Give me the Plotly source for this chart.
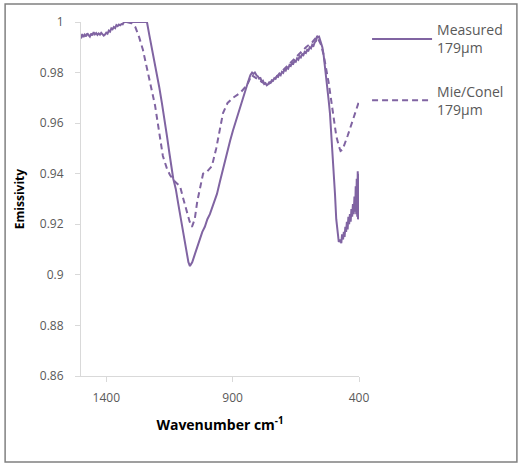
import plotly.graph_objects as go

# Measured 179um (solid)
meas_x = [1500, 1495, 1490, 1485, 1480, 1475, 1470, 1465, 1460, 1455, 1450, 1445, 1440, 1435,
          1430, 1425, 1420, 1415, 1410, 1405, 1400, 1395, 1390, 1385, 1380, 1375, 1370, 1365,
          1360, 1355, 1350, 1345, 1340, 1335, 1330, 1320, 1300, 1280, 1260, 1245, 1239,
          1230, 1220, 1210, 1200, 1190, 1180, 1170, 1160, 1150, 1145, 1140, 1135, 1130, 1125,
          1115, 1100, 1085, 1075, 1069, 1060, 1050, 1040, 1030, 1020, 1010, 1000, 990, 980,
          970, 962, 950, 940, 930, 920, 910, 899, 890, 879, 870, 860, 850, 840, 830, 823,
          818, 812, 805, 800, 795, 790, 785, 780, 775, 770, 765, 760, 755, 750, 745, 740,
          735, 730, 725, 720, 715, 710, 705, 700, 695, 690, 685, 680, 675, 670, 665, 660,
          655, 650, 645, 640, 635, 630, 625, 620, 615, 610, 605, 600, 595, 590, 585, 580,
          575, 570, 566, 562, 558, 554, 550, 545, 540, 535, 530, 525, 520, 515, 510, 505,
          500, 495, 490, 485, 480, 475, 470, 467, 463, 460, 457, 454, 451, 448, 445, 442,
          439, 436, 433, 430, 427, 424, 421, 418, 415, 413, 411, 409, 407, 405, 404, 403,
          402, 401, 400]
meas_y = [0.9935, 0.9952, 0.9940, 0.9950, 0.9943, 0.9955, 0.9948, 0.9942, 0.9954, 0.9947, 0.9960, 0.9951,
          0.9956, 0.9949, 0.9955, 0.9950, 0.9957, 0.9951, 0.9946, 0.9950, 0.9958, 0.9954, 0.9966, 0.9962,
          0.9975, 0.9971, 0.9980, 0.9976, 0.9988, 0.9984, 0.9990, 0.9987, 0.9992, 0.9991, 1.000, 1.000,
          1.000, 1.000, 1.000, 1.000, 1.000,
          0.995, 0.990, 0.985, 0.979, 0.974, 0.968, 0.962, 0.955, 0.948, 0.944, 0.941, 0.938,
          0.936, 0.934, 0.928, 0.919, 0.910, 0.905, 0.9035, 0.905, 0.908, 0.911, 0.914, 0.917,
          0.919, 0.922, 0.924, 0.927, 0.930, 0.932, 0.937, 0.941, 0.946, 0.950, 0.953, 0.957,
          0.960, 0.963, 0.966, 0.970, 0.973, 0.976, 0.979, 0.980,
          0.9795, 0.9800, 0.9788, 0.9785, 0.9776, 0.9778, 0.9765, 0.9768, 0.9755, 0.9758, 0.9750, 0.9754,
          0.9762, 0.9760, 0.9770, 0.9768, 0.9778, 0.9775, 0.9786, 0.9783, 0.9795, 0.9790, 0.9803, 0.9799,
          0.9812, 0.9808, 0.9820, 0.9816, 0.9830, 0.9826, 0.9838, 0.9835, 0.9847, 0.9843, 0.9856, 0.9851,
          0.9864, 0.9860, 0.9873, 0.9869, 0.9882, 0.9878, 0.9890, 0.9887, 0.9900, 0.9896, 0.9910, 0.9906,
          0.9920, 0.9925, 0.9945, 0.9940, 0.9942, 0.993, 0.992, 0.990, 0.987, 0.983, 0.979, 0.974,
          0.969, 0.964, 0.957, 0.950, 0.941, 0.932, 0.922, 0.916, 0.913, 0.914, 0.9125, 0.916,
          0.914, 0.917, 0.915, 0.919, 0.917, 0.921, 0.918, 0.923, 0.920, 0.924, 0.921, 0.926,
          0.923, 0.928, 0.924, 0.931, 0.925, 0.935, 0.924, 0.938, 0.923, 0.941, 0.922, 0.936,
          0.923, 0.940, 0.922]

# Mie/Conel 179um (dashed)
mie_x = [1320, 1300, 1285, 1270, 1255, 1239, 1220, 1207, 1190, 1176, 1160, 1148, 1130, 1108,
         1095, 1081, 1070, 1061, 1050, 1040, 1029, 1017, 1000, 982, 965, 950, 938, 920, 899,
         870, 843, 825, 810, 795, 780, 765, 750, 730, 700, 670, 640, 610, 585, 568, 560, 550,
         540, 530, 520, 510, 500, 490, 480, 473, 465, 455, 445, 435, 425, 415, 408, 402]
mie_y = [1.000, 0.9995, 0.998, 0.994, 0.989, 0.982, 0.974, 0.967, 0.956, 0.947, 0.942, 0.9395,
         0.937, 0.935, 0.930, 0.9245, 0.921, 0.919, 0.922, 0.929, 0.935, 0.940, 0.941, 0.943,
         0.950, 0.957, 0.964, 0.968, 0.970, 0.972, 0.975, 0.979, 0.978, 0.977, 0.976, 0.975,
         0.976, 0.978, 0.981, 0.984, 0.987, 0.990, 0.992, 0.994, 0.993, 0.991, 0.987, 0.982,
         0.976, 0.969, 0.961, 0.955, 0.951, 0.949, 0.9495, 0.952, 0.955, 0.958, 0.961, 0.964,
         0.966, 0.968]

y_ticks = [0.86, 0.88, 0.9, 0.92, 0.94, 0.96, 0.98, 1]
y_tick_text = ["0.86", "0.88", "0.9", "0.92", "0.94", "0.96", "0.98", "1"]
x_ticks = [1400, 900, 400]

color = "#8064A2"
font = "Open Sans, Liberation Sans, sans-serif"

fig = go.Figure()
fig.add_trace(go.Scatter(x=meas_x, y=meas_y, mode="lines", name="Measured<br>179µm",
                         line=dict(color=color, width=2), legendgroup="a"))
fig.add_trace(go.Scatter(x=mie_x, y=mie_y, mode="lines", name="Mie/Conel<br>179µm",
                         line=dict(color=color, width=2, dash="6px,4px"), legendgroup="b"))

fig.update_layout(
    width=519, height=465,
    margin=dict(l=81, r=160, t=22, b=89, autoexpand=False),
    paper_bgcolor="white", plot_bgcolor="white",
    font=dict(family=font, size=12, color="#595959"),
    showlegend=True,
    legend=dict(x=1.029, y=1.022, xanchor="left", yanchor="top",
                font=dict(size=14, color="#595959"),
                itemwidth=60,
                traceorder="grouped", tracegroupgap=22,
                bgcolor="rgba(0,0,0,0)"),
    xaxis=dict(range=[1500, 400], tickvals=x_ticks, ticktext=[str(v) for v in x_ticks],
               showgrid=False, zeroline=False, showline=True, linecolor="#d9d9d9",
               linewidth=1, ticks="outside", ticklen=5, tickcolor="#d9d9d9",
               ticklabelstandoff=6,
               title=dict(text="<b>Wavenumber cm<sup>-1</sup></b>", standoff=14,
                          font=dict(size=14, color="#000000"))),
    yaxis=dict(range=[0.86, 1.0], tickvals=y_ticks, ticktext=y_tick_text,
               showgrid=False, zeroline=False, showline=True, linecolor="#d9d9d9",
               linewidth=1, ticks="outside", ticklen=5, tickcolor="#d9d9d9",
               ticklabelstandoff=9,
               title=dict(text="<b>Emissivity</b>", standoff=12,
                          font=dict(size=12, color="#000000"))),
    shapes=[dict(type="rect", xref="paper", yref="paper",
                 x0=-0.273, x1=1.568, y0=-0.243, y1=1.051,
                 line=dict(color="#808080", width=1.5), fillcolor="rgba(0,0,0,0)",
                 layer="below")],
)

fig.write_html("out.html")
